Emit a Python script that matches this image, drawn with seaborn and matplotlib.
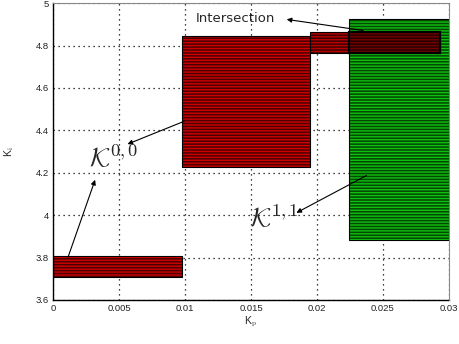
import matplotlib
matplotlib.use("Agg")
import matplotlib.pyplot as plt
import seaborn as sns

# parameter boxes (kp range, ki range)
box_names = ["K00_a", "K00_b", "K01", "K11"]
kp_lo = [0.0, 0.0098, 0.0195, 0.0224]
kp_hi = [0.0098, 0.0195, 0.0293, 0.0300]
ki_lo = [3.706, 4.228, 4.763, 3.881]
ki_hi = [3.805, 4.844, 4.863, 4.925]
box_colors = ["#ff0000", "#ff0000", "#e00000", "#11ee11"]

# intersection of K01 and K11
inter_kp = [0.0224, 0.0293]
inter_ki = [4.763, 4.863]

xticks = [0, 0.005, 0.01, 0.015, 0.02, 0.025, 0.03]
xticklabels = ["0", "0.005", "0.01", "0.015", "0.02", "0.025", "0.03"]
yticks = [3.6, 3.8, 4.0, 4.2, 4.4, 4.6, 4.8, 5.0]
yticklabels = ["3.6", "3.8", "4", "4.2", "4.4", "4.6", "4.8", "5"]

sns.set_style("white")
plt.rcParams["font.family"] = ["Liberation Sans", "DejaVu Sans"]
plt.rcParams["mathtext.fontset"] = "cm"
plt.rcParams["hatch.linewidth"] = 0.5
plt.rcParams["hatch.color"] = "black"

fig = plt.figure(figsize=(4.59, 3.44), dpi=100)
ax = fig.add_axes([0.1155, 0.128, 0.8625, 0.863])

zs = [2, 2, 4, 3]
for i in range(len(box_names)):
    ax.bar(kp_lo[i], ki_hi[i] - ki_lo[i], width=kp_hi[i] - kp_lo[i], bottom=ki_lo[i],
           align="edge", color=box_colors[i], edgecolor="black", linewidth=0.8,
           hatch="-" * 11, zorder=zs[i])

ax.bar(inter_kp[0], inter_ki[1] - inter_ki[0], width=inter_kp[1] - inter_kp[0],
       bottom=inter_ki[0], align="edge", color="#8b0000", edgecolor="black",
       linewidth=1.6, hatch="-" * 11, zorder=5)

ax.set_xlim(0, 0.03)
ax.set_ylim(3.6, 5.0)
ax.set_xticks(xticks)
ax.set_xticklabels(xticklabels)
ax.set_yticks(yticks)
ax.set_yticklabels(yticklabels)
ax.tick_params(labelsize=6.8, length=0, pad=3, colors="#222222")
ax.grid(True, ls=(0, (1, 3)), color="black", lw=0.9, zorder=1)
ax.set_axisbelow(True)

for s in ["left", "bottom"]:
    ax.spines[s].set_color("black")
    ax.spines[s].set_linewidth(1.0)
for s in ["top", "right"]:
    ax.spines[s].set_color("#888888")
    ax.spines[s].set_linewidth(0.8)
    ax.spines[s].set_zorder(6)

ax.set_xlabel(r"K$_{\rm p}$", fontsize=7.5, labelpad=1)
ax.set_ylabel(r"K$_{\rm i}$", fontsize=7.5, labelpad=14)

arrow = dict(arrowstyle="-|>", color="black", lw=0.8, mutation_scale=7)
ax.text(0.0108, 4.925, "Intersection", fontsize=9.5, family="DejaVu Sans",
        va="center", ha="left", zorder=7)
ax.annotate("", xy=(0.0175, 4.925), xytext=(0.0237, 4.869), arrowprops=arrow, zorder=7)

ax.annotate("", xy=(0.00545, 4.330), xytext=(0.01015, 4.448), arrowprops=arrow, zorder=7)
ax.annotate("", xy=(0.00326, 4.179), xytext=(0.00106, 3.788), arrowprops=arrow, zorder=7)
ax.text(0.0027, 4.27, r"$\mathcal{K}^{0,0}$", fontsize=19, va="center", ha="left", zorder=7)

ax.annotate("", xy=(0.01826, 4.005), xytext=(0.02394, 4.193), arrowprops=arrow, zorder=7)
ax.text(0.0149, 3.985, r"$\mathcal{K}^{1,1}$", fontsize=19, va="center", ha="left", zorder=7)

fig.savefig("out.png", dpi=100)
